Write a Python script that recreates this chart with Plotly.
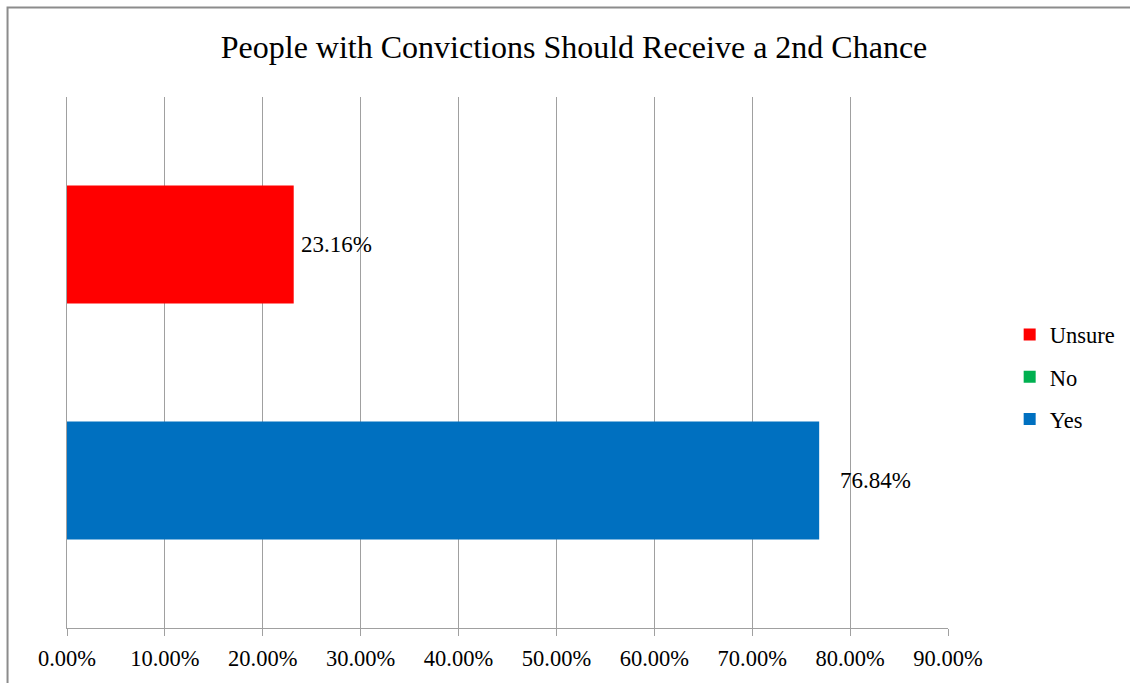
import plotly.graph_objects as go

# Survey results
categories = ["2nd Chance"]
series_names = ["Yes", "No", "Unsure"]
series_values = [0.7684, 0.0, 0.2316]
series_colors = ["#0070C0", "#00B050", "#FF0000"]
tick_values = [0.0, 0.1, 0.2, 0.3, 0.4, 0.5, 0.6, 0.7, 0.8, 0.9]
tick_labels = ["0.00%", "10.00%", "20.00%", "30.00%", "40.00%",
               "50.00%", "60.00%", "70.00%", "80.00%", "90.00%"]

FONT = "Liberation Serif, Times New Roman, serif"
n_series = len(series_names)

fig = go.Figure()
for i, (name, val, col) in enumerate(zip(series_names, series_values, series_colors)):
    fig.add_trace(go.Bar(
        x=[val], y=categories, name=name, orientation="h",
        marker=dict(color=col, line=dict(width=0)),
        legendgroup=name,
        legendrank=n_series - i,  # legend lists the top bar first
    ))

# value labels placed just right of each non-zero bar
label_shift = {"Yes": 19, "Unsure": 5}
for name, val in zip(series_names, series_values):
    if val > 0:
        idx = series_names.index(name)
        # vertical offset of the bar inside the group (3 bars, each 2/9 wide)
        yoff = (idx - 1) * (2 / 9)
        fig.add_annotation(
            x=val, y=yoff, xref="x", yref="y",
            text=f"{val * 100:.2f}%", showarrow=False,
            xanchor="left", yanchor="middle", xshift=label_shift[name],
            font=dict(family=FONT, size=23, color="#000000"),
        )

fig.update_layout(
    width=1130, height=683,
    margin=dict(l=67, r=182, t=97, b=55, autoexpand=False),
    paper_bgcolor="white", plot_bgcolor="white",
    barmode="group", bargap=1 / 3, bargroupgap=0,
    title=dict(text="People with Convictions Should Receive a 2nd Chance",
               x=0.508, xanchor="center", y=0.931, yanchor="middle",
               font=dict(family=FONT, size=32, color="#000000")),
    font=dict(family=FONT, color="#000000"),
    showlegend=True,
    legend=dict(traceorder="grouped", tracegroupgap=10,
                x=1.07, xanchor="left", y=0.5925, yanchor="top",
                font=dict(family=FONT, size=22.5, color="#000000"),
                itemwidth=30, bgcolor="rgba(0,0,0,0)"),
    xaxis=dict(range=[0, 0.9], tickvals=tick_values, ticktext=tick_labels,
               showgrid=True, gridcolor="#A0A0A0", gridwidth=1,
               showline=True, linecolor="#A0A0A0", linewidth=1,
               ticks="outside", ticklen=7, tickcolor="#A0A0A0",
               ticklabelstandoff=3,
               tickfont=dict(family=FONT, size=22.5, color="#000000"),
               zeroline=False, fixedrange=True),
    yaxis=dict(range=[-0.5, 0.5], showticklabels=False, showgrid=False,
               showline=True, linecolor="#A0A0A0", linewidth=1,
               zeroline=False, fixedrange=True),
)

# chart outer border
fig.add_shape(type="rect", xref="paper", yref="paper",
              x0=-0.0675, x1=1.3, y0=-0.3, y1=1.1685,
              line=dict(color="#8C8C8C", width=2), fillcolor="rgba(0,0,0,0)",
              layer="below")

fig.write_html("out.html", config={"displayModeBar": False})
